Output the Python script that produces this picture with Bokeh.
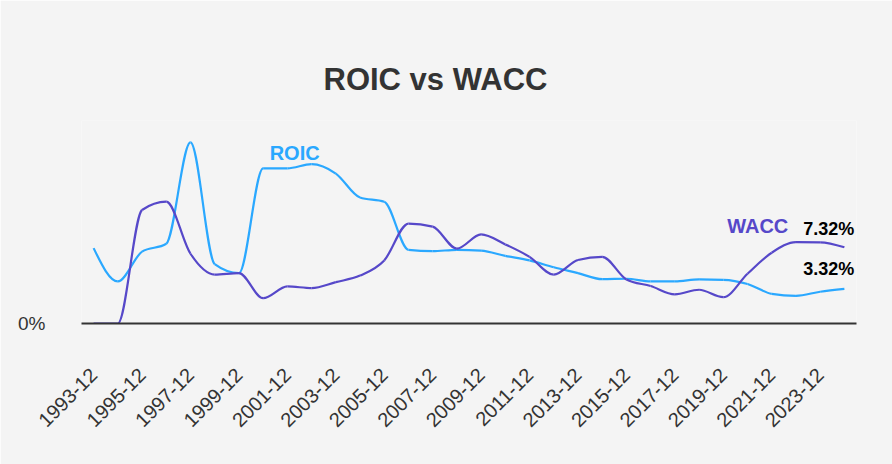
import math
from bokeh.plotting import figure
from bokeh.models import FixedTicker, Label, ColumnDataSource, Range1d
from bokeh.embed import file_html
from bokeh.resources import INLINE

years = [f"{y}-12" for y in range(1993, 2025)]
roic = [7.24, 4.04, 6.9, 7.66, 17.4, 5.7, 4.84, 14.9, 14.9, 15.3, 14.4, 12.1, 11.7, 7.08, 6.95,
        7.08, 7.0, 6.5, 6.06, 5.4, 4.84, 4.26, 4.3, 4.04, 4.04, 4.23, 4.2, 3.8, 2.85, 2.66, 3.05, 3.32]
wacc = [0.0, 0.0, 10.9, 11.7, 6.7, 4.7, 4.84, 2.43, 3.56, 3.4, 3.97, 4.6, 6.06, 9.6, 9.3,
        7.2, 8.56, 7.6, 6.4, 4.7, 6.1, 6.4, 4.23, 3.6, 2.8, 3.24, 2.53, 4.78, 6.8, 7.82, 7.8, 7.32]
tick_years = list(range(0, 32, 2))

ROIC_COLOR = "#2aa8ff"
WACC_COLOR = "#5648c9"
BG = "#f4f4f4"


def monotone_segments(ys):
    xs = list(range(len(ys)))
    n = len(ys)
    s = [(ys[i + 1] - ys[i]) / (xs[i + 1] - xs[i]) for i in range(n - 1)]
    t = [0.0] * n
    for i in range(1, n - 1):
        h0 = xs[i] - xs[i - 1]
        h1 = xs[i + 1] - xs[i]
        s0, s1 = s[i - 1], s[i]
        p = (s0 * h1 + s1 * h0) / (h0 + h1)
        sg = (math.copysign(1, s0) if s0 != 0 else 0) + (math.copysign(1, s1) if s1 != 0 else 0)
        t[i] = sg * min(abs(s0), abs(s1), 0.5 * abs(p)) if sg != 0 else 0.0
    t[0] = (3 * s[0] - t[1]) / 2
    t[-1] = (3 * s[-1] - t[-2]) / 2
    d = dict(x0=[], y0=[], x1=[], y1=[], cx0=[], cy0=[], cx1=[], cy1=[])
    for i in range(n - 1):
        dx = (xs[i + 1] - xs[i]) / 3
        d["x0"].append(xs[i]); d["y0"].append(ys[i])
        d["x1"].append(xs[i + 1]); d["y1"].append(ys[i + 1])
        d["cx0"].append(xs[i] + dx); d["cy0"].append(ys[i] + t[i] * dx)
        d["cx1"].append(xs[i + 1] - dx); d["cy1"].append(ys[i + 1] - t[i + 1] * dx)
    return ColumnDataSource(d)


p = figure(width=892, height=464, output_backend="svg", toolbar_location=None,
           x_range=Range1d(-0.5, 31.5), y_range=Range1d(0, 19.5),
           min_border_left=81, min_border_right=36, min_border_top=120, min_border_bottom=141,
           background_fill_color=BG, border_fill_color=BG, outline_line_color=None)

p.title.text = "ROIC vs WACC"
p.title.text_font = "Liberation Sans"
p.title.text_font_size = "31px"
p.title.text_color = "#333333"
p.title.align = "left"
p.title.offset = 242
p.title.standoff = 48

p.xgrid.grid_line_color = None
p.ygrid.grid_line_color = None

for ys, col in ((roic, ROIC_COLOR), (wacc, WACC_COLOR)):
    src = monotone_segments(ys)
    p.bezier(x0="x0", y0="y0", x1="x1", y1="y1", cx0="cx0", cy0="cy0", cx1="cx1", cy1="cy1",
             source=src, line_color=col, line_width=2.2)

xa = p.xaxis[0]
xa.ticker = FixedTicker(ticks=tick_years)
xa.major_label_overrides = {i: years[i] for i in tick_years}
xa.major_label_orientation = math.pi / 4
xa.major_label_text_font = "Liberation Sans"
xa.major_label_text_font_size = "20px"
xa.major_label_text_color = "#333333"
xa.major_label_standoff = 42
xa.major_tick_line_color = None
xa.minor_tick_line_color = None
xa.axis_line_color = "#333333"
xa.axis_line_width = 2

ya = p.yaxis[0]
ya.ticker = FixedTicker(ticks=[0])
ya.major_label_overrides = {0: "0%"}
ya.major_label_text_font = "Liberation Sans"
ya.major_label_text_font_size = "19px"
ya.major_label_text_color = "#333333"
ya.major_label_standoff = 30
ya.axis_line_color = None
ya.major_tick_line_color = None
ya.minor_tick_line_color = None

p.add_layout(Label(x=7.27, y=16.4, text="ROIC", text_font="Liberation Sans", text_font_size="20px",
                   text_font_style="bold", text_color=ROIC_COLOR, text_baseline="middle"))
p.add_layout(Label(x=26.16, y=9.37, text="WACC", text_font="Liberation Sans", text_font_size="20px",
                   text_font_style="bold", text_color=WACC_COLOR, text_baseline="middle"))
p.add_layout(Label(x=29.3, y=9.03, text=f"{wacc[-1]:.2f}%", text_font="Liberation Sans",
                   text_font_size="18px", text_font_style="bold", text_color="#000000",
                   text_baseline="middle"))
p.add_layout(Label(x=29.3, y=5.22, text=f"{roic[-1]:.2f}%", text_font="Liberation Sans",
                   text_font_size="18px", text_font_style="bold", text_color="#000000",
                   text_baseline="middle"))

html = file_html(p, INLINE)
html = html.replace("<body>", f'<body style="background:{BG}">', 1)
open("out.html", "w").write(html)
